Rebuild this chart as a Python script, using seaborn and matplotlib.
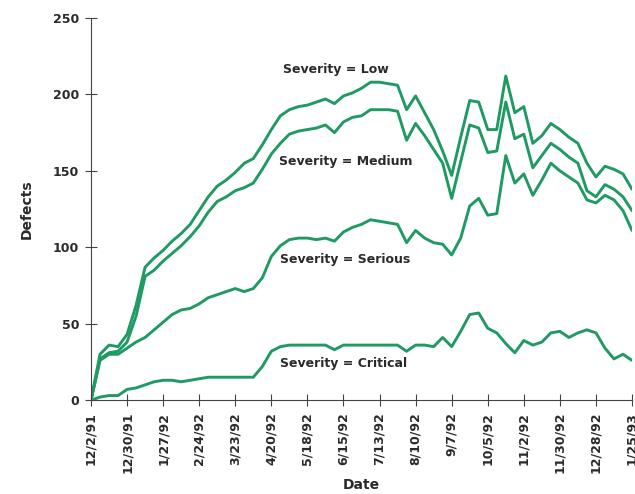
import numpy as np
import pandas as pd
import matplotlib
matplotlib.use("Agg")
import matplotlib.pyplot as plt
import seaborn as sns

# weekly defect counts, 12/2/91 .. 1/25/93
low = [0, 30, 36, 35, 43, 62, 87, 93, 98, 104,
       109, 115, 124, 133, 140, 144, 149, 155, 158, 167,
       177, 186, 190, 192, 193, 195, 197, 194, 199, 201,
       204, 208, 208, 207, 206, 190, 199, 188, 177, 163,
       147, 172, 196, 195, 177, 177, 212, 188, 192, 168,
       173, 181, 177, 172, 168, 155, 146, 153, 151, 148, 138]
medium = [0, 27, 31, 32, 38, 55, 81, 85, 91, 96,
          101, 107, 114, 123, 130, 133, 137, 139, 142, 151,
          161, 168, 174, 176, 177, 178, 180, 175, 182, 185,
          186, 190, 190, 190, 189, 170, 181, 173, 164, 155,
          132, 156, 180, 178, 162, 163, 195, 171, 174, 152,
          160, 168, 164, 159, 155, 137, 133, 141, 138, 133, 124]
serious = [0, 26, 30, 30, 34, 38, 41, 46, 51, 56,
           59, 60, 63, 67, 69, 71, 73, 71, 73, 80,
           94, 101, 105, 106, 106, 105, 106, 104, 110, 113,
           115, 118, 117, 116, 115, 103, 111, 106, 103, 102,
           95, 106, 127, 132, 121, 122, 160, 142, 148, 134,
           144, 155, 150, 146, 142, 131, 129, 134, 131, 124, 111]
critical = [0, 2, 3, 3, 7, 8, 10, 12, 13, 13,
            12, 13, 14, 15, 15, 15, 15, 15, 15, 22,
            32, 35, 36, 36, 36, 36, 36, 33, 36, 36,
            36, 36, 36, 36, 36, 32, 36, 36, 35, 41,
            35, 45, 56, 57, 47, 44, 37, 31, 39, 36,
            38, 44, 45, 41, 44, 46, 44, 34, 27, 30, 26]

severities = ["Low", "Medium", "Serious", "Critical"]
dates = pd.date_range("1991-12-02", periods=len(low), freq="7D")
tick_dates = dates[::4]
tick_labels = [f"{d.month}/{d.day}/{d.strftime('%y')}" for d in tick_dates]

GREEN = "#1f9a62"
INK = "#2a2a2a"

df = pd.DataFrame({"Date": dates, "Low": low, "Medium": medium,
                   "Serious": serious, "Critical": critical})
long = df.melt(id_vars="Date", var_name="Severity", value_name="Defects")

sns.set_style("white")
plt.rcParams["font.family"] = ["DejaVu Sans Condensed", "DejaVu Sans"]

fig = plt.figure(figsize=(6.35, 4.94), dpi=100)
ax = fig.add_axes([0.1433, 0.19, 0.852, 0.7736])

sns.lineplot(data=long, x="Date", y="Defects", hue="Severity",
             palette={s: GREEN for s in severities}, linewidth=2.1,
             legend=False, ax=ax)

# labels on the curves
label_pos = {"Low": (27.2, 216), "Medium": (28.2, 156),
             "Serious": (28.2, 92), "Critical": (28, 24)}
for s in severities:
    i, v = label_pos[s]
    x = dates[0] + pd.Timedelta(days=7 * i)
    ax.text(x, v, f"Severity = {s}", ha="center", va="center",
            fontsize=9, fontweight="bold", color=INK)

ax.set_xlim(dates[0], dates[-1])
ax.set_ylim(0, 250)
ax.set_yticks([0, 50, 100, 150, 200, 250])
ax.set_xticks(tick_dates)
ax.set_xticklabels(tick_labels, rotation=90)

for lab in ax.get_xticklabels() + ax.get_yticklabels():
    lab.set_fontweight("bold")
    lab.set_fontsize(9)
    lab.set_color(INK)

ax.tick_params(axis="both", direction="inout", length=9, width=0.8,
               color="#444444", bottom=True, left=True, pad=4)
sns.despine(ax=ax)
for sp in ["left", "bottom"]:
    ax.spines[sp].set_color("#444444")
    ax.spines[sp].set_linewidth(0.8)

ax.set_xlabel("Date", fontsize=10, fontweight="bold", color=INK, labelpad=3)
ax.set_ylabel("Defects", fontsize=10, fontweight="bold", color=INK, labelpad=14)

fig.savefig("out.png", dpi=100)
